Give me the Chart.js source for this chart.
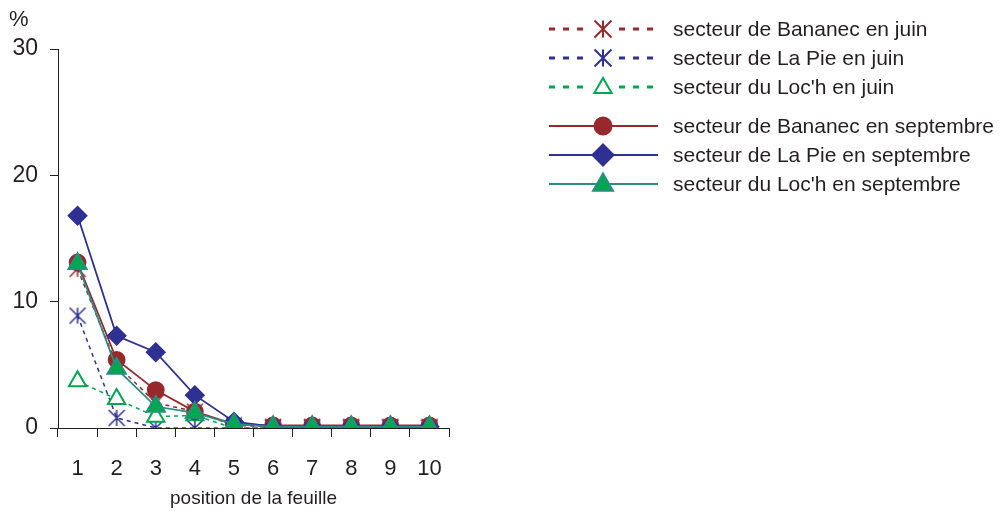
<!DOCTYPE html>
<html>
<head>
<meta charset="utf-8">
<script src="https://cdn.jsdelivr.net/npm/chart.js@4"></script>
<style>
  html, body { margin: 0; padding: 0; background: #fff; }
  #wrap { width: 1002px; height: 511px; position: relative; }
</style>
</head>
<body>
<div id="wrap"><canvas id="leafChart"></canvas></div>
<script>
// position de la feuille
const positions = ['1', '2', '3', '4', '5', '6', '7', '8', '9', '10'];

// juin
const bananecJuin = [12.6, 5.0, 2.0, 1.3, 0.2, 0.1, 0.1, 0.1, 0.1, 0.1];
const laPieJuin   = [8.9, 0.8, 0.0, 0.0, 0.0, 0.0, 0.0, 0.0, 0.0, 0.0];
const lochJuin    = [3.7, 2.3, 0.9, 1.0, 0.0, 0.0, 0.0, 0.0, 0.0, 0.0];

// septembre
const bananecSept = [13.1, 5.4, 3.0, 1.3, 0.3, 0.2, 0.2, 0.2, 0.2, 0.2];
const laPieSept   = [16.8, 7.3, 6.0, 2.6, 0.5, 0.1, 0.1, 0.1, 0.1, 0.1];
const lochSept    = [13.0, 4.7, 1.7, 1.2, 0.3, 0.1, 0.1, 0.1, 0.1, 0.1];

const yTicks = [0, 10, 20, 30];

const RED = '#97282b';
const BLUE = '#2e3192';
const GREEN = '#00a651';
const TEAL = '#2b8c84';
const TEXT = '#231f20';
const FONT = '"Liberation Sans", Arial, sans-serif';

// asterisque : un X + un trait vertical
function drawStar(c, x, y, r, color, lw) {
    c.save();
    c.strokeStyle = color;
    c.lineWidth = lw;
    c.beginPath();
    c.moveTo(x, y - r); c.lineTo(x, y + r);
    c.moveTo(x - r, y - r); c.lineTo(x + r, y + r);
    c.moveTo(x + r, y - r); c.lineTo(x - r, y + r);
    c.stroke();
    c.restore();
}
function makeStar(color, r) {
    const cv = document.createElement('canvas');
    cv.width = r * 2 + 2;
    cv.height = r * 2 + 2;
    drawStar(cv.getContext('2d'), r + 1, r + 1, r, color, 1.5);
    return cv;
}
const starRed = makeStar(RED, 8);
const starBlue = makeStar(BLUE, 8);

const datasets = [
    {
        label: 'secteur de Bananec en juin',
        data: bananecJuin,
        borderColor: RED, backgroundColor: RED,
        borderWidth: 1.5, borderDash: [4, 4],
        pointStyle: starRed, legendStar: RED,
        order: 5
    },
    {
        label: 'secteur de La Pie en juin',
        data: laPieJuin,
        borderColor: BLUE, backgroundColor: BLUE,
        borderWidth: 1.5, borderDash: [4, 4],
        pointStyle: starBlue, legendStar: BLUE,
        order: 4
    },
    {
        label: "secteur du Loc'h en juin",
        data: lochJuin,
        borderColor: GREEN, backgroundColor: '#fff',
        borderWidth: 1.5, borderDash: [4, 4],
        pointStyle: 'triangle', pointRadius: 10, pointBorderWidth: 2,
        pointBorderColor: GREEN, pointBackgroundColor: '#fff',
        order: 3
    },
    {
        label: 'secteur de Bananec en septembre',
        data: bananecSept,
        borderColor: RED, backgroundColor: RED,
        borderWidth: 1.8,
        pointStyle: 'circle', pointRadius: 8,
        pointBorderColor: RED, pointBackgroundColor: RED,
        order: 2
    },
    {
        label: 'secteur de La Pie en septembre',
        data: laPieSept,
        borderColor: BLUE, backgroundColor: BLUE,
        borderWidth: 1.8,
        pointStyle: 'rectRot', pointRadius: 9,
        pointBorderColor: BLUE, pointBackgroundColor: BLUE,
        order: 1
    },
    {
        label: "secteur du Loc'h en septembre",
        data: lochSept,
        borderColor: TEAL, backgroundColor: GREEN,
        borderWidth: 1.8,
        pointStyle: 'triangle', pointRadius: 11, pointBorderWidth: 1.5,
        pointBorderColor: TEAL, pointBackgroundColor: GREEN,
        order: 0
    }
];

// legende dessinee a la main a droite
const sideLegend = {
    id: 'sideLegend',
    afterDraw(chart) {
        const c = chart.ctx;
        const rows = [29, 58, 87, 126, 155, 184];
        const x0 = 549, x1 = 658, xm = 603, xt = 673;
        chart.data.datasets.forEach((ds, i) => {
            const y = rows[i];
            const dashed = !!ds.borderDash;
            c.save();
            c.strokeStyle = ds.borderColor;
            c.lineWidth = dashed ? 3 : 2;
            c.setLineDash(dashed ? [6, 8] : []);
            c.beginPath();
            c.moveTo(x0, y); c.lineTo(x1, y);
            c.stroke();
            c.setLineDash([]);
            if (ds.legendStar) {
                c.fillStyle = '#fff';
                c.fillRect(xm - 12, y - 12, 24, 24);
                drawStar(c, xm, y, 8.5, ds.legendStar, 2);
            } else {
                let r = 8.5, dy = 0;
                if (ds.pointStyle === 'rectRot') r = 10.5;
                if (ds.pointStyle === 'triangle') { r = ds.pointBackgroundColor === '#fff' ? 10 : 11.5; dy = 1; }
                if (ds.pointBackgroundColor === '#fff') {
                    c.fillStyle = '#fff';
                    c.fillRect(xm - 13, y - 12, 26, 24);
                }
                c.fillStyle = ds.pointBackgroundColor;
                c.strokeStyle = ds.pointBorderColor;
                c.lineWidth = 2;
                Chart.helpers.drawPoint(c, { pointStyle: ds.pointStyle, radius: r, rotation: 0, borderWidth: 2 }, xm, y + dy);
            }
            c.fillStyle = TEXT;
            c.font = '21px ' + FONT;
            c.textBaseline = 'middle';
            c.textAlign = 'left';
            c.fillText(ds.label, xt, y + 1);
            c.restore();
        });
        // unite de l'axe
        c.save();
        c.fillStyle = TEXT;
        c.font = '22px ' + FONT;
        c.textBaseline = 'middle';
        c.fillText('%', 9, 20);
        c.restore();
    }
};

const ctx = document.getElementById('leafChart').getContext('2d');

new Chart(ctx, {
    type: 'line',
    data: {
        labels: positions,
        datasets: datasets
    },
    options: {
        responsive: true,
        maintainAspectRatio: false,
        animation: false,
        layout: {
            padding: { top: 49, right: 553, left: 0, bottom: 0 }
        },
        plugins: {
            legend: { display: false },
            tooltip: { enabled: false }
        },
        scales: {
            x: {
                offset: true,
                afterFit(scale) { scale.height = 83; },
                grid: {
                    offset: true,
                    drawOnChartArea: false,
                    tickLength: 9,
                    color: TEXT
                },
                border: { color: TEXT, width: 1 },
                ticks: {
                    color: TEXT,
                    padding: 19,
                    maxRotation: 0,
                    font: { family: FONT, size: 22 }
                },
                title: {
                    display: true,
                    text: 'position de la feuille',
                    color: TEXT,
                    padding: { top: 0, bottom: 1 },
                    font: { family: FONT, size: 19 }
                }
            },
            y: {
                min: 0,
                max: 30,
                afterFit(scale) { scale.width = 58; },
                afterBuildTicks(scale) {
                    scale.ticks = yTicks.map(v => ({ value: v }));
                },
                grid: {
                    drawOnChartArea: false,
                    tickLength: 8,
                    color: TEXT
                },
                border: { color: TEXT, width: 1 },
                ticks: {
                    color: TEXT,
                    padding: 12,
                    font: { family: FONT, size: 23 }
                }
            }
        }
    },
    plugins: [sideLegend]
});
</script>
</body>
</html>
